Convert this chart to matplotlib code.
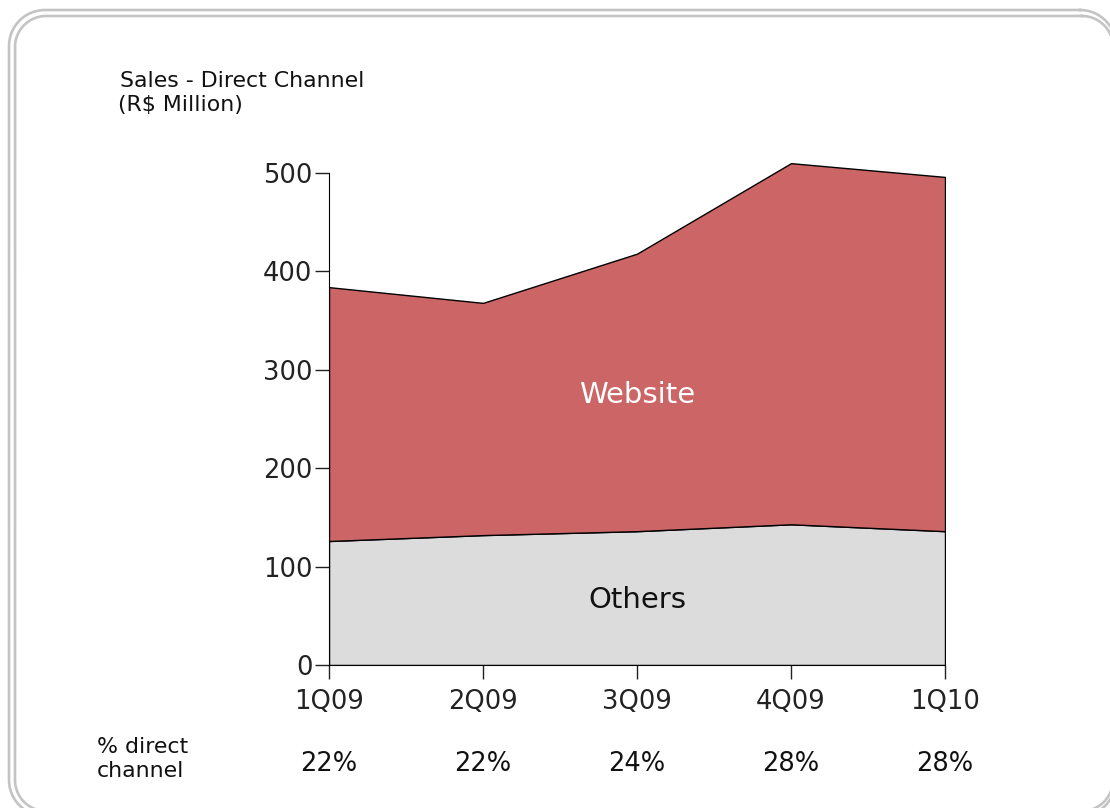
import matplotlib
matplotlib.use("Agg")
import numpy as np
import matplotlib.pyplot as plt

quarters = ["1Q09", "2Q09", "3Q09", "4Q09", "1Q10"]
others = [126, 132, 136, 143, 136]
website = [258, 236, 282, 367, 360]
pct_direct = ["22%", "22%", "24%", "28%", "28%"]
yticks = [0, 100, 200, 300, 400, 500]

plt.rcParams['font.family'] = ['DejaVu Sans']

W, H = 1110, 808
fig = plt.figure(figsize=(W / 100, H / 100), dpi=100)

# decorative frame overlay in screen-pixel coordinates (y downward)
bg = fig.add_axes([0, 0, 1, 1])
bg.set_xlim(0, W)
bg.set_ylim(H, 0)
bg.axis('off')


def rounded_rect(x0, y0, x1, y1, r, n=40):
    xs, ys = [], []
    corners = [(x1 - r, y0 + r, -90, 0), (x1 - r, y1 - r, 0, 90),
               (x0 + r, y1 - r, 90, 180), (x0 + r, y0 + r, 180, 270)]
    for cx, cy, a0, a1 in corners:
        t = np.radians(np.linspace(a0, a1, n))
        xs.extend(cx + r * np.cos(t))
        ys.extend(cy + r * np.sin(t))
    xs.append(xs[0])
    ys.append(ys[0])
    return xs, ys


for box in [(9, 10, 1116, 816, 36), (15, 16, 1113, 811, 31)]:
    fx, fy = rounded_rect(*box)
    bg.plot(fx, fy, color="#C4C4C4", linewidth=1.9, solid_joinstyle='round')

px = lambda x: x / W
py = lambda y: 1 - y / H
ymax = 522
top_px = 665 - ymax * 0.984
ax = fig.add_axes([px(329), py(665), px(945) - px(329), py(top_px) - py(665)])
ax.patch.set_alpha(0)
x = list(range(len(quarters)))
ax.stackplot(x, others, website, colors=["#DCDCDC", "#CC6666"],
             edgecolor="black", linewidth=1.0)
ax.set_xlim(0, len(quarters) - 1)
ax.set_ylim(0, ymax)
ax.spines['top'].set_visible(False)
ax.spines['right'].set_visible(False)
ax.spines['left'].set_bounds(0, 500)
ax.set_yticks(yticks)
ax.set_xticks(x)
ax.set_xticklabels(quarters)
ax.tick_params(axis='both', direction='out', length=10, width=1, labelsize=18.5, colors='#222222')
ax.tick_params(axis='x', pad=7)
ax.tick_params(axis='y', pad=2)

ax.text(2, 274, "Website", ha='center', va='center', fontsize=21, color='white')
ax.text(2, 66, "Others", ha='center', va='center', fontsize=21, color='#111111')

fig.text(px(120), py(81), "Sales - Direct Channel", ha='left', va='center', fontsize=15.8, color='#111111')
fig.text(px(118), py(105), "(R$ Million)", ha='left', va='center', fontsize=15.8, color='#111111')
fig.text(px(97), py(759), "% direct\nchannel", ha='left', va='center', fontsize=15.8,
         color='#111111', linespacing=1.3)
for i, p in enumerate(pct_direct):
    xp = 329 + i * (945 - 329) / (len(quarters) - 1)
    fig.text(px(xp), py(764), p, ha='center', va='center', fontsize=18.5, color='#111111')

fig.savefig("out.png", dpi=100)
